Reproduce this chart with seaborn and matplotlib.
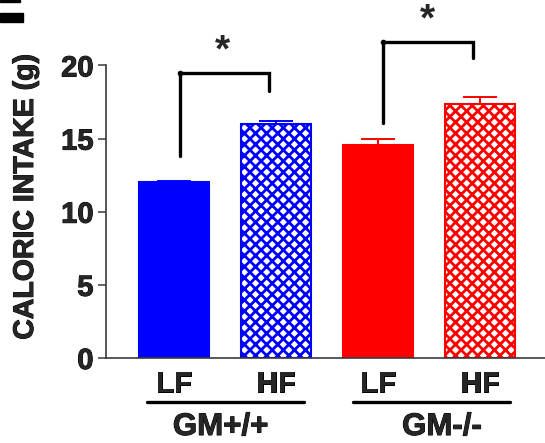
import numpy as np
import pandas as pd
import matplotlib
matplotlib.use("Agg")
import matplotlib.pyplot as plt
import matplotlib.patheffects as pe
from matplotlib.patches import Rectangle
import seaborn as sns

# values
genotypes = ["GM+/+", "GM+/+", "GM-/-", "GM-/-"]
diets = ["LF", "HF", "LF", "HF"]
means = [12.02, 15.98, 14.57, 17.37]
sems = [0.08, 0.25, 0.39, 0.50]
bar_colors = ["#0000ff", "#0000ff", "#ff0000", "#ff0000"]
yticks = [0, 5, 10, 15, 20]

# significance brackets: (x_left, x_right, y_left, y_top, y_right, star_x, star_y)
brackets = [
    (0.06, 0.93, 13.8, 19.47, 18.28, 0.47, 20.95),
    (2.05, 2.93, 16.05, 21.63, 20.5, 2.48, 23.1),
]

sns.set_style("ticks")
plt.rcParams["font.family"] = ["Liberation Sans", "DejaVu Sans"]
plt.rcParams["font.weight"] = "bold"
plt.rcParams["hatch.linewidth"] = 2.0

heavy = [pe.withStroke(linewidth=0.7, foreground="black")]

df = pd.DataFrame({"cond": [g + " " + d for g, d in zip(genotypes, diets)],
                   "mean": means})

fig = plt.figure(figsize=(5.45, 4.43), dpi=100)
ax = fig.add_axes([0.1945, 0.1919, 0.8055, 0.6603])

sns.barplot(data=df, x="cond", y="mean", hue="cond", palette=bar_colors,
            width=0.686, legend=False, saturation=1, ax=ax, errorbar=None)

for i, p in enumerate(ax.patches):
    p.set_linewidth(1.5)
    p.set_edgecolor(bar_colors[i])
    if diets[i] == "HF":
        p.set_facecolor("white")
        p.set_hatch("xxx")

for i in range(4):
    ax.errorbar(i, means[i], yerr=[[0], [sems[i]]], fmt="none",
                ecolor=bar_colors[i], elinewidth=1.4, capsize=12.5,
                capthick=1.4, zorder=1)

for xl, xr, yl, yt, yr, sx, sy in brackets:
    ax.plot([xl, xl, xr, xr], [yl, yt, yt, yr], color="black", lw=2.4,
            clip_on=False, solid_joinstyle="miter")
    ax.plot([xl], [yt], marker="o", ms=3, color="black", clip_on=False)
    ax.text(sx, sy, "*", ha="center", va="center", fontsize=28,
            fontweight="bold", clip_on=False)

ax.set_xlim(-0.667, 3.637)
ax.set_ylim(0, 20)
ax.set_yticks(yticks)
ax.set_xticks(range(4))
ax.set_xticklabels(diets, fontsize=21, fontweight="bold", path_effects=heavy)
ax.set_yticklabels([str(t) for t in yticks], fontsize=21, fontweight="bold",
                   path_effects=heavy)
ax.tick_params(axis="x", length=0, pad=9)
ax.tick_params(axis="y", length=6, width=1.1, pad=3, color="#3a3a3a")
ax.set_xlabel("")
ax.set_ylabel("")
sns.despine(ax=ax)
for s in ["left", "bottom"]:
    ax.spines[s].set_linewidth(1.2)
    ax.spines[s].set_color("#3a3a3a")

# group underlines and genotype names
for x0, x1 in [(-0.265, 1.275), (1.755, 3.294)]:
    ax.plot([x0, x1], [-3.0, -3.0], color="black", lw=2.4, clip_on=False)
ax.text(0.456, -4.72, "GM+/+", ha="center", va="center", fontsize=22.5,
        fontweight="bold", clip_on=False, path_effects=heavy)
ax.text(2.627, -4.72, "GM-/-", ha="center", va="center", fontsize=22.5,
        fontweight="bold", clip_on=False, path_effects=heavy)

fig.text(26 / 545, 1 - 197 / 443, "CALORIC INTAKE (g)", rotation=90,
         ha="center", va="center", fontsize=20.5, fontweight="bold",
         path_effects=heavy)

# cropped panel letter fragments at the top left
fig.patches.append(Rectangle((0, 1 - 21.7 / 443), 22.7 / 545, 8.4 / 443,
                             transform=fig.transFigure, color="black"))
fig.patches.append(Rectangle((0, 1 - 1.8 / 443), 20 / 545, 1.8 / 443,
                             transform=fig.transFigure, color="black"))

fig.savefig("out.png", dpi=100)
